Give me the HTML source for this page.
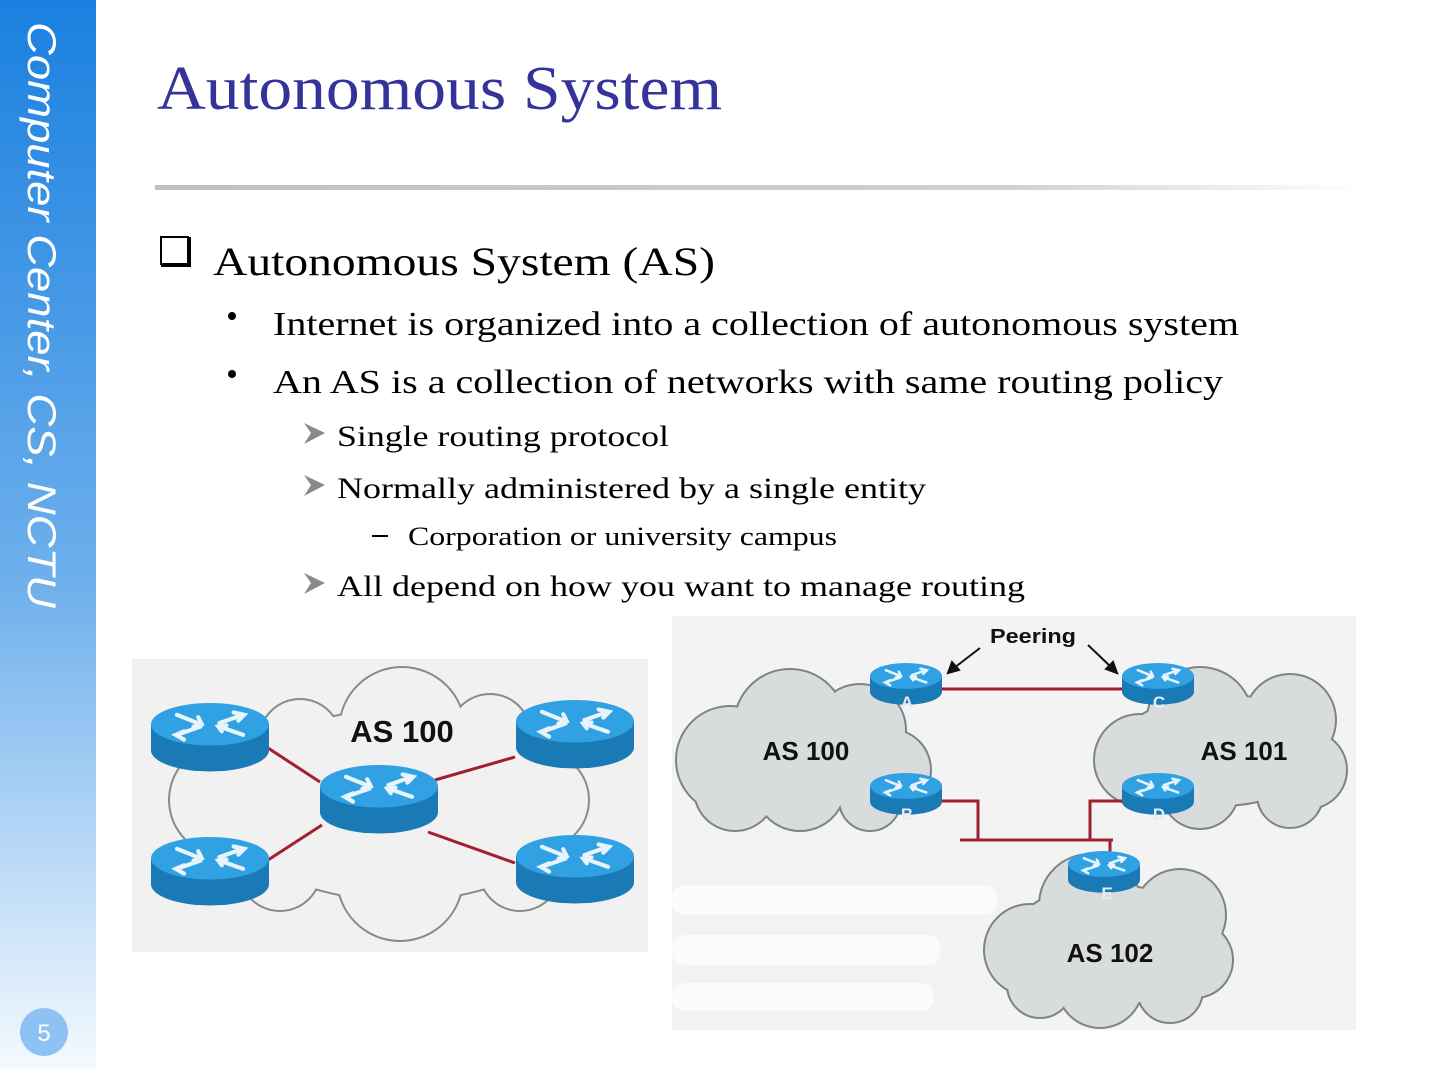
<!DOCTYPE html>
<html><head><meta charset="utf-8"><style>
html,body{margin:0;padding:0;background:#fff;}
body{width:1440px;height:1080px;overflow:hidden;position:relative;}
</style></head><body>
<svg width="1440" height="1080" viewBox="0 0 1440 1080" xmlns="http://www.w3.org/2000/svg" style="position:absolute;left:0;top:0">
<defs>
<linearGradient id="side" x1="0" y1="0" x2="0" y2="1">
<stop offset="0" stop-color="#1a80e0"/><stop offset="0.55" stop-color="#6fb0ec"/><stop offset="1" stop-color="#f4f9fe"/>
</linearGradient>
<linearGradient id="rule" x1="0" y1="0" x2="1" y2="0">
<stop offset="0" stop-color="#c0c0c0"/><stop offset="0.7" stop-color="#d0d0d0"/><stop offset="1" stop-color="#ffffff"/>
</linearGradient>
<g id="rt">
<path d="M0 18 L0 40 A50 18 0 0 0 100 40 L100 18 Z" fill="#1a7ab5"/>
<ellipse cx="50" cy="18" rx="50" ry="18" fill="#30a2e4"/>
<g stroke="#e8f4fb" stroke-width="3.5" fill="none" stroke-linecap="round">
<path d="M22 10 L42 18"/><path d="M40 12 L43 18 L36 20"/>
<path d="M78 10 L58 17"/><path d="M70 8 L79 10 L74 15"/>
<path d="M22 27 L42 20"/><path d="M28 31 L21 27 L28 24"/>
<path d="M78 27 L58 20"/><path d="M60 24 L57 20 L64 19"/>
</g>
</g>
<g id="c1">
<ellipse cx="400" cy="805" rx="175" ry="95"/>
<circle cx="402" cy="730" r="62"/><circle cx="300" cy="740" r="40"/><circle cx="490" cy="735" r="40"/>
<circle cx="225" cy="800" r="55"/><circle cx="540" cy="800" r="48"/>
<circle cx="400" cy="878" r="62"/><circle cx="280" cy="870" r="40"/><circle cx="520" cy="870" r="40"/>
</g>
<g id="c2">
<ellipse cx="800" cy="755" rx="100" ry="55"/>
<circle cx="790" cy="725" r="55"/><circle cx="730" cy="760" r="53"/><circle cx="860" cy="730" r="45"/><circle cx="890" cy="770" r="40"/><circle cx="800" cy="785" r="45"/><circle cx="735" cy="790" r="40"/><circle cx="870" cy="800" r="30"/>
<ellipse cx="1220" cy="750" rx="100" ry="55"/>
<circle cx="1200" cy="720" r="52"/><circle cx="1290" cy="720" r="45"/><circle cx="1308" cy="770" r="38"/><circle cx="1140" cy="760" r="45"/><circle cx="1200" cy="790" r="38"/><circle cx="1290" cy="795" r="32"/>
<ellipse cx="1108" cy="945" rx="100" ry="60"/>
<circle cx="1090" cy="905" r="50"/><circle cx="1180" cy="915" r="45"/><circle cx="1195" cy="960" r="37"/><circle cx="1030" cy="950" r="45"/><circle cx="1100" cy="985" r="42"/><circle cx="1170" cy="990" r="32"/><circle cx="1040" cy="985" r="32"/>
</g>
</defs>
<rect x="0" y="0" width="96" height="1068" fill="url(#side)"/>
<text transform="translate(28,22) rotate(90)" font-family="Liberation Sans, sans-serif" font-style="italic" font-size="40" fill="#ffffff" textLength="586" lengthAdjust="spacingAndGlyphs">Computer Center, CS, NCTU</text>
<circle cx="44" cy="1032" r="24" fill="#8ec2f5"/>
<text x="44" y="1041" text-anchor="middle" font-family="Liberation Sans, sans-serif" font-size="24" fill="#fff">5</text>

<text x="157" y="109" font-family="Liberation Serif, serif" font-size="62" fill="#333399" textLength="565" lengthAdjust="spacingAndGlyphs">Autonomous System</text>
<rect x="155" y="185" width="1210" height="5" fill="url(#rule)"/>

<g font-family="Liberation Serif, serif" fill="#000">
<rect x="161" y="237" width="30" height="30" fill="#000"/>
<rect x="161" y="237" width="27" height="27" fill="#fff" stroke="#000" stroke-width="2"/>
<text x="213" y="275" font-size="40" textLength="502" lengthAdjust="spacingAndGlyphs">Autonomous System (AS)</text>
<circle cx="232" cy="316" r="4"/>
<text x="273" y="335" font-size="34" textLength="966" lengthAdjust="spacingAndGlyphs">Internet is organized into a collection of autonomous system</text>
<circle cx="232" cy="374" r="4"/>
<text x="273" y="393" font-size="34" textLength="950" lengthAdjust="spacingAndGlyphs">An AS is a collection of networks with same routing policy</text>
<g fill="#8a8a8a"><path d="M304 423 L325 433 L304 444 L311 433 Z"/><path d="M304 475 L325 485 L304 496 L311 485 Z"/><path d="M304 573 L325 583 L304 594 L311 583 Z"/></g>
<text x="337" y="446" font-size="30" textLength="332" lengthAdjust="spacingAndGlyphs">Single routing protocol</text>
<text x="337" y="498" font-size="30" textLength="589" lengthAdjust="spacingAndGlyphs">Normally administered by a single entity</text>
<rect x="372" y="535" width="16" height="2"/>
<text x="408" y="545" font-size="26" textLength="429" lengthAdjust="spacingAndGlyphs">Corporation or university campus</text>
<text x="337" y="596" font-size="30" textLength="688" lengthAdjust="spacingAndGlyphs">All depend on how you want to manage routing</text>
</g>

<!-- left image -->
<rect x="132" y="659" width="516" height="293" fill="#f1f1f1"/>
<use href="#c1" fill="#f1f1f1" stroke="#8a8a8a" stroke-width="4"/>
<use href="#c1" fill="#f1f1f1"/>
<g stroke="#a02030" stroke-width="3">
<line x1="268" y1="748" x2="320" y2="782"/><line x1="435" y1="780" x2="515" y2="757"/>
<line x1="268" y1="860" x2="322" y2="825"/><line x1="428" y1="832" x2="515" y2="863"/>
</g>
<use href="#rt" transform="translate(151,703) scale(1.18)"/>
<use href="#rt" transform="translate(151,837) scale(1.18)"/>
<use href="#rt" transform="translate(320,765) scale(1.18)"/>
<use href="#rt" transform="translate(516,700) scale(1.18)"/>
<use href="#rt" transform="translate(516,835) scale(1.18)"/>
<text x="402" y="742" text-anchor="middle" font-family="Liberation Sans, sans-serif" font-weight="bold" font-size="31" fill="#111">AS 100</text>

<!-- right image -->
<rect x="672" y="616" width="684" height="414" fill="#f3f3f3"/>
<g fill="#fbfbfb"><rect x="672" y="885" width="325" height="30" rx="12"/><rect x="672" y="935" width="268" height="30" rx="12"/><rect x="672" y="983" width="262" height="28" rx="12"/></g>
<use href="#c2" fill="#d9dcdd" stroke="#7d8486" stroke-width="4"/>
<use href="#c2" fill="#d9dcdd"/>
<g stroke="#a02030" stroke-width="3" fill="none">
<line x1="940" y1="689" x2="1124" y2="689"/>
<polyline points="940,801 978,801 978,840"/>
<line x1="960" y1="840" x2="1113" y2="840"/>
<polyline points="1124,801 1090,801 1090,840"/>
<polyline points="1110,840 1110,854"/>
</g>
<use href="#rt" transform="translate(870,663) scale(0.72)"/>
<use href="#rt" transform="translate(1122,663) scale(0.72)"/>
<use href="#rt" transform="translate(870,773) scale(0.72)"/>
<use href="#rt" transform="translate(1122,773) scale(0.72)"/>
<use href="#rt" transform="translate(1068,851) scale(0.72)"/>
<g font-family="Liberation Sans, sans-serif" font-weight="bold" font-size="17" fill="#e6ecef" text-anchor="middle">
<text x="907" y="708">A</text><text x="1159" y="708">C</text><text x="907" y="820">B</text><text x="1159" y="820">D</text><text x="1107" y="899">E</text>
</g>
<g font-family="Liberation Sans, sans-serif" font-weight="bold" fill="#111">
<text x="806" y="760" text-anchor="middle" font-size="26">AS 100</text>
<text x="1244" y="760" text-anchor="middle" font-size="26">AS 101</text>
<text x="1110" y="962" text-anchor="middle" font-size="26">AS 102</text>
<text x="1033" y="643" text-anchor="middle" font-size="20" textLength="86" lengthAdjust="spacingAndGlyphs">Peering</text>
</g>
<g stroke="#111" stroke-width="2" fill="#111">
<line x1="980" y1="648" x2="954" y2="668"/><path d="M948 673 L952 662 L959 670 Z"/>
<line x1="1088" y1="645" x2="1111" y2="667"/><path d="M1117 673 L1106 669 L1113 662 Z"/>
</g>
</svg>
</body></html>
